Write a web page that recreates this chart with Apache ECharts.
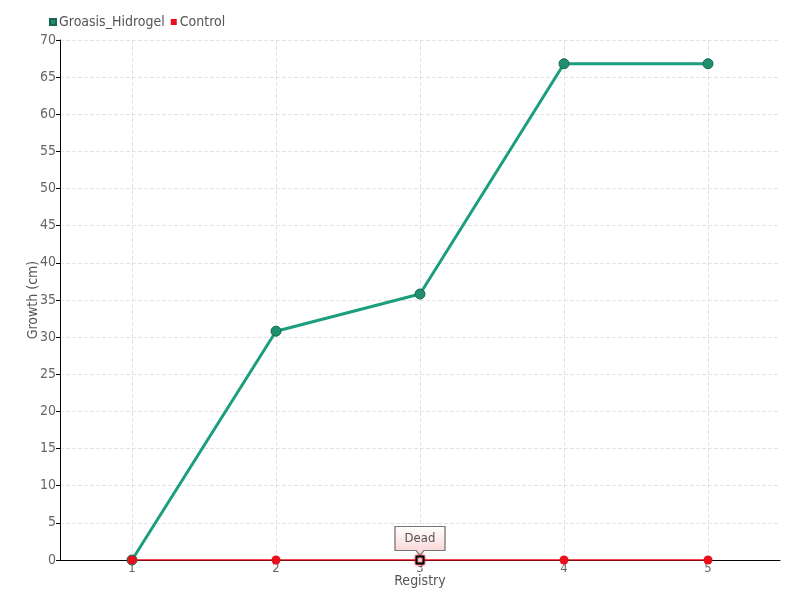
<!DOCTYPE html>
<html>
<head>
<meta charset="utf-8">
<script src="https://cdn.jsdelivr.net/npm/echarts@6/dist/echarts.min.js"></script>
<style>html,body{margin:0;padding:0;background:#fff}#c{width:800px;height:600px}</style>
</head>
<body>
<div id="c"></div>
<script>
const categories = ['1', '2', '3', '4', '5'];
const groasis = [0, 30.8, 35.8, 66.8, 66.8];
const control = [0, 0, 0, 0, 0];
const deadIndex = 2;
const deadLabel = 'Dead';

const FONT = "'DejaVu Sans Condensed', 'Liberation Sans Narrow', sans-serif";
const chart = echarts.init(document.getElementById('c'));
chart.setOption({
  animation: false,
  textStyle: { fontFamily: FONT },
  legend: {
    left: 44, top: 10, itemWidth: 6, itemHeight: 6, itemGap: 6,
    icon: 'rect',
    textStyle: { fontFamily: FONT, fontSize: 14, color: '#555', padding: [0, 0, 0, -2] },
    data: ['Groasis_Hidrogel', 'Control']
  },
  grid: { left: 60, right: 20, top: 40, bottom: 40 },
  xAxis: {
    type: 'category', data: categories, boundaryGap: true,
    name: 'Registry', nameLocation: 'middle', nameGap: 14, nameMoveOverlap: false,
    nameTextStyle: { fontFamily: FONT, fontSize: 14, color: '#555' },
    axisLine: { lineStyle: { color: '#000', width: 1 } },
    axisTick: { alignWithLabel: true, length: 4, lineStyle: { color: '#000' } },
    axisLabel: { fontFamily: FONT, fontSize: 13, color: '#666', margin: 2 },
    splitLine: { show: true, alignWithLabel: true, lineStyle: { type: 'dashed', color: '#e3e3e3' } }
  },
  yAxis: {
    type: 'value', min: 0, max: 70, interval: 5,
    name: 'Growth (cm)', nameLocation: 'middle', nameGap: 20, nameMoveOverlap: false,
    nameTextStyle: { fontFamily: FONT, fontSize: 14, color: '#555' },
    axisLine: { show: true, lineStyle: { color: '#000', width: 1 } },
    axisTick: { show: true, length: 4, lineStyle: { color: '#000' } },
    axisLabel: { fontFamily: FONT, fontSize: 14, color: '#666', margin: 4 },
    splitLine: { show: true, lineStyle: { type: 'dashed', color: '#e3e3e3' } }
  },
  series: [
    {
      name: 'Groasis_Hidrogel', type: 'line', data: groasis,
      symbol: 'circle', symbolSize: 10,
      color: '#1b9e7d',
      lineStyle: { width: 3, color: '#1b9e7d' },
      itemStyle: { color: '#1f8f70', borderColor: '#176650', borderWidth: 1 }
    },
    {
      name: 'Control', type: 'line', z: 5,
      data: control.map((v, i) => i === deadIndex
        ? { value: v, symbol: 'rect', symbolSize: 7, itemStyle: { color: '#fff', borderColor: '#000', borderWidth: 2, shadowColor: '#e8101c', shadowBlur: 3 } }
        : v),
      symbol: 'circle', symbolSize: 9,
      color: '#e8101c',
      lineStyle: { width: 1.5, color: '#ee1020' },
      itemStyle: { color: '#e8101c' },
      markPoint: {
        data: [{ coord: [deadIndex, control[deadIndex]], value: deadLabel }],
        symbol: 'path://M0,0 H50 V24 H29 L25,29 L21,24 H0 Z',
        symbolSize: [50, 29],
        symbolOffset: [0, -19],
        itemStyle: {
          color: new echarts.graphic.LinearGradient(0, 0, 0, 1, [
            { offset: 0, color: '#ffffff' }, { offset: 1, color: '#f9d0d0' }
          ]),
          borderColor: '#777', borderWidth: 1
        },
        label: {
          show: true, position: 'inside', offset: [0, -2],
          formatter: deadLabel, fontFamily: FONT, fontSize: 13, color: '#555'
        }
      }
    }
  ]
});
</script>
</body>
</html>
